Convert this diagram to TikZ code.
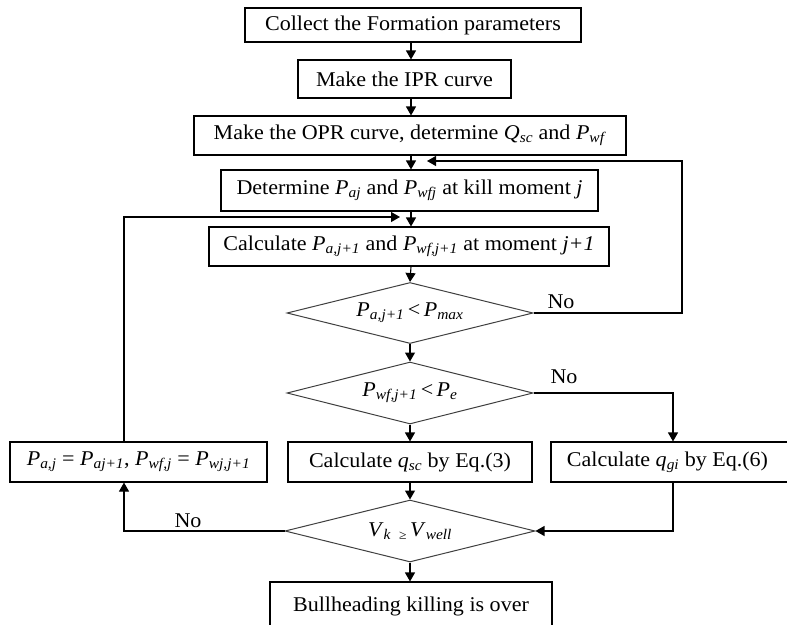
\documentclass[tikz,border=0pt]{standalone}
\usepackage{fontspec}
\setmainfont{Liberation Serif}[FakeStretch=1.05]
\usetikzlibrary{arrows.meta,shapes.geometric}
\newcommand\vv[2]{\textit{#1}\textsubscript{\textit{#2}}}
\begin{document}
\begin{tikzpicture}[x=1pt,y=-1pt,
  every node/.style={font=\fontsize{21}{24}\selectfont},
  bx/.style={draw=black,line width=1.1pt,rectangle,inner sep=0pt,anchor=center},
  dm/.style={draw=black!75,line width=1pt,diamond,inner sep=0pt,aspect=4},
  arr/.style={line width=1.1pt,-{Triangle[length=9pt,width=10pt]}},
  lbl/.style={inner sep=0pt}]
\useasboundingbox (0,0) rectangle (787,624);
\clip (0,0) rectangle (787,624);
\fill[white] (0,0) rectangle (787,624);
\coordinate (ax) at (411,0);
\coordinate (lx) at (124,0);
\coordinate (rx) at (673,0);
% boxes
\node[bx,minimum width=336pt,minimum height=34pt] (b1) at (413,25) {Collect the Formation parameters};
\node[bx,minimum width=213pt,minimum height=38pt] (b2) at (404.5,79) {Make the IPR curve};
\node[bx,minimum width=432pt,minimum height=39pt] (b3) at (410,135.5) {Make the OPR curve, determine \vv{Q}{sc} and \vv{P}{wf}};
\node[bx,minimum width=377pt,minimum height=41pt] (b4) at (409.5,190.5) {Determine \vv{P}{aj} and \vv{P}{wfj} at kill moment \textit{j}};
\node[bx,minimum width=400pt,minimum height=39pt] (b5) at (409,246.5) {Calculate \vv{P}{a,j+1} and \vv{P}{wf,j+1} at moment \textit{j+1}};
\node[dm,minimum width=246pt,minimum height=61pt] (d1) at (410,313) {\vv{P}{a,j+1}\,{<}\,\vv{P}{max}};
\node[dm,minimum width=246pt,minimum height=62pt] (d2) at (410,393) {\vv{P}{wf,j+1}\,{<}\,\vv{P}{e}};
\node[bx,minimum width=244pt,minimum height=40pt] (bq) at (410,462) {Calculate \vv{q}{sc} by Eq.(3)};
\node[bx,minimum width=239pt,minimum height=40pt] (bg) at (670.5,462) {Calculate \vv{q}{gi} by Eq.(6)\hspace*{6pt}};
\node[bx,minimum width=257pt,minimum height=40pt] (bp) at (138.5,462) {\vv{P}{a,j} = \vv{P}{aj+1}, \vv{P}{wf,j} = \vv{P}{wj,j+1}};
\node[dm,minimum width=250pt,minimum height=62pt] (d3) at (410,531) {\vv{V}{k}\hspace{8pt}\raisebox{-3pt}{\fontsize{13}{13}\selectfont ≥}\,\vv{V}{well}};
\node[bx,minimum width=282pt,minimum height=48pt] (be) at (411,606) {\raisebox{2pt}{Bullheading killing is over}};
% labels
\node[lbl] (n1) at (561,302) {No};
\node[lbl] (n2) at (564,377) {No};
\node[lbl] (n3) at (188,521) {No};
% free ends
\coordinate (m1) at (427,161);
\coordinate (m2) at (400,217);
% main vertical arrows
\draw[arr] (b1.south -| ax) -- (b2.north -| ax);
\draw[arr] (b2.south -| ax) -- (b3.north -| ax);
\draw[arr] (b3.south -| ax) -- (b4.north -| ax);
\draw[arr] (b4.south -| ax) -- (b5.north -| ax);
\draw[arr] (b5.south -| ax) -- (d1.north);
\draw[arr] (d1.south) -- (d2.north);
\draw[arr] (d2.south) -- (bq.north -| d2.south);
\draw[arr] (bq.south -| d2.south) -- (d3.north);
\draw[arr] (d3.south) -- (be.north -| d3.south);
% loops
\draw[arr] (d1.east) -- (682,313) -- (682,161) -- (m1);
\draw[arr] (d2.east) -- (d2.east -| rx) -- (bg.north -| rx);
\draw[arr] (bg.south -| rx) -- (d3.east -| rx) -- (d3.east);
\draw[arr] (d3.west) -- (d3.west -| lx) -- (bp.south -| lx);
\draw[arr] (bp.north -| lx) -- (124,217) -- (m2);
\end{tikzpicture}
\end{document}
